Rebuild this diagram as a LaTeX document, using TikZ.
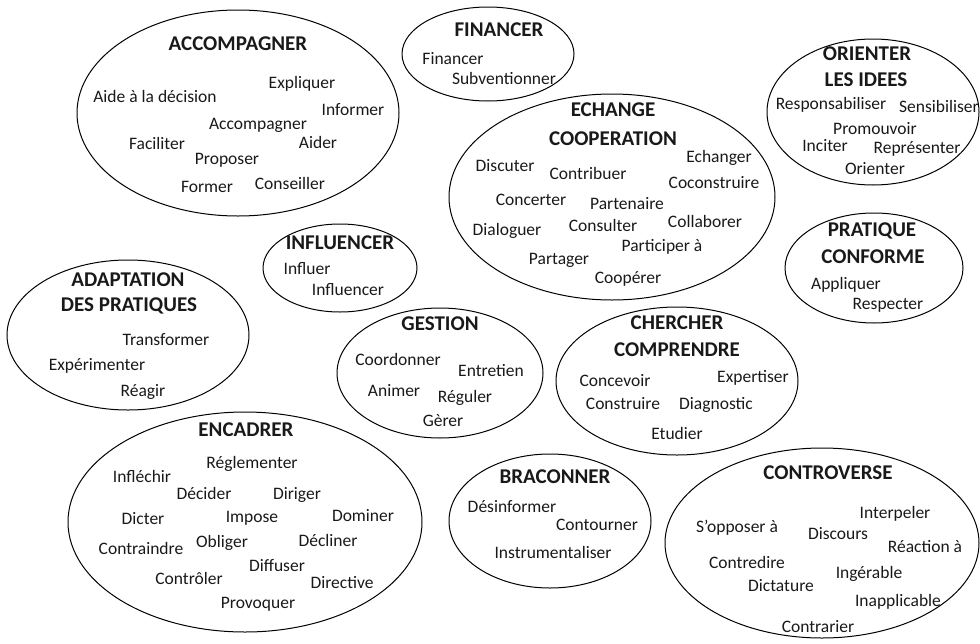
\documentclass[tikz,border=0pt]{standalone}
\usepackage{fontspec}
\setmainfont{Carlito}
\begin{document}
\begin{tikzpicture}[x=1pt, y=-1pt,
		bulle/.style={draw, line width=1pt},
		titre/.style={font=\fontsize{21}{21}\selectfont\bfseries, text=black!90, inner sep=0pt, text height=0.65em, text depth=0pt},
		mot/.style={font=\fontsize{17.5}{17.5}\selectfont, text=black!90, inner sep=0pt, text height=0.7em, text depth=0.2em}]
			\useasboundingbox (0,0) rectangle (980,643);
			
			% -- ACCOMPAGNER --
			\draw[bulle] (238,113) ellipse (161 and 103);
			\node[titre] (accT) at (238,47) {ACCOMPAGNER};
			\foreach \t/\x/\y [count=\i] in {Expliquer/302/86, Aide à la décision/155/100, Informer/353/113, Accompagner/258/127, Faciliter/157/147, Aider/318/146, Proposer/227/162, Former/207/190, Conseiller/290/187}
				\node[mot] (acc\i) at (\x,\y) {\t};
			
			% -- FINANCER --
			\draw[bulle] (488,54) ellipse (86 and 47);
			\node[titre] (finT) at (499,33) {FINANCER};
			\foreach \t/\x/\y [count=\i] in {Financer/453/62, Subventionner/504/82}
				\node[mot] (fin\i) at (\x,\y) {\t};
			
			% -- ORIENTER LES IDEES --
			\draw[bulle] (873,112) ellipse (106 and 73);
			\node[titre] (oriT) at (867,57) {ORIENTER};
			\node[titre] (oriT2) at (866,83) {LES IDEES};
			\foreach \t/\x/\y [count=\i] in {Responsabiliser/831/107, Sensibiliser/939/110, Promouvoir/875/132, Inciter/825/149, Représenter/917/151, Orienter/875/172}
				\node[mot] (ori\i) at (\x,\y) {\t};
			
			% -- ECHANGE COOPERATION --
			\draw[bulle] (612,197) ellipse (163 and 103);
			\node[titre] (echT) at (613,113) {ECHANGE};
			\node[titre] (echT2) at (613,142) {COOPERATION};
			\foreach \t/\x/\y [count=\i] in {Discuter/505/169, Echanger/719/160, Contribuer/588/177, Coconstruire/714/186, Concerter/531/203, Partenaire/627/207, Dialoguer/507/233, Consulter/603/229, Collaborer/705/225, Participer à/662/249, Partager/559/262, Coopérer/628/281}
				\node[mot] (ech\i) at (\x,\y) {\t};
			
			% -- INFLUENCER --
			\draw[bulle] (340,268) ellipse (77 and 44);
			\node[titre] (infT) at (340,246) {INFLUENCER};
			\foreach \t/\x/\y [count=\i] in {Influer/307/272, Influencer/348/293}
				\node[mot] (inf\i) at (\x,\y) {\t};
			
			% -- PRATIQUE CONFORME --
			\draw[bulle] (874,268) ellipse (89 and 55);
			\node[titre] (praT) at (872,233) {PRATIQUE};
			\node[titre] (praT2) at (873,260) {CONFORME};
			\foreach \t/\x/\y [count=\i] in {Appliquer/846/287, Respecter/888/307}
				\node[mot] (pra\i) at (\x,\y) {\t};
			
			% -- ADAPTATION DES PRATIQUES --
			\draw[bulle] (128,335) ellipse (121 and 75);
			\node[titre] (adaT) at (128,283) {ADAPTATION};
			\node[titre] (adaT2) at (129,308) {DES PRATIQUES};
			\foreach \t/\x/\y [count=\i] in {Transformer/166/343, Expérimenter/97/368, Réagir/143/394}
				\node[mot] (ada\i) at (\x,\y) {\t};
			
			% -- GESTION --
			\draw[bulle] (440,373) ellipse (103 and 65);
			\node[titre] (gesT) at (440,327) {GESTION};
			\foreach \t/\x/\y [count=\i] in {Coordonner/398/363, Entretien/491/374, Animer/394/394, Réguler/465/400, Gèrer/443/424}
				\node[mot] (ges\i) at (\x,\y) {\t};
			
			% -- CHERCHER COMPRENDRE --
			\draw[bulle] (677,381) ellipse (121 and 74);
			\node[titre] (cheT) at (677,326) {CHERCHER};
			\node[titre] (cheT2) at (677,353) {COMPRENDRE};
			\foreach \t/\x/\y [count=\i] in {Concevoir/615/384, Expertiser/753/380, Construire/623/407, Diagnostic/716/407, Etudier/677/437}
				\node[mot] (che\i) at (\x,\y) {\t};
			
			% -- ENCADRER --
			\draw[bulle] (245,522) ellipse (177 and 110);
			\node[titre] (encT) at (246,433) {ENCADRER};
			\foreach \t/\x/\y [count=\i] in {Réglementer/252/466, Infléchir/142/480, Décider/204/497, Diriger/297/497, Dicter/143/522, Impose/252/520, Dominer/363/519, Contraindre/141/552, Obliger/222/545, Décliner/328/544, Diffuser/277/569, Contrôler/189/582, Directive/342/586, Provoquer/258/606}
				\node[mot] (enc\i) at (\x,\y) {\t};
			
			% -- BRACONNER --
			\draw[bulle] (550,521) ellipse (101 and 67);
			\node[titre] (braT) at (555,480) {BRACONNER};
			\foreach \t/\x/\y [count=\i] in {Désinformer/512/510, Contourner/597/528, Instrumentaliser/553/556}
				\node[mot] (bra\i) at (\x,\y) {\t};
			
			% -- CONTROVERSE --
			\draw[bulle] (822,543) ellipse (157 and 95);
			\node[titre] (conT) at (828,476) {CONTROVERSE};
			\foreach \t/\x/\y [count=\i] in {Interpeler/895/516, S’opposer à/737/530, Discours/838/537, Réaction à/925/550, Contredire/747/566, Ingérable/869/576, Dictature/781/589, Inapplicable/898/604, Contrarier/818/630}
				\node[mot] (con\i) at (\x,\y) {\t};
		\end{tikzpicture}
\end{document}
